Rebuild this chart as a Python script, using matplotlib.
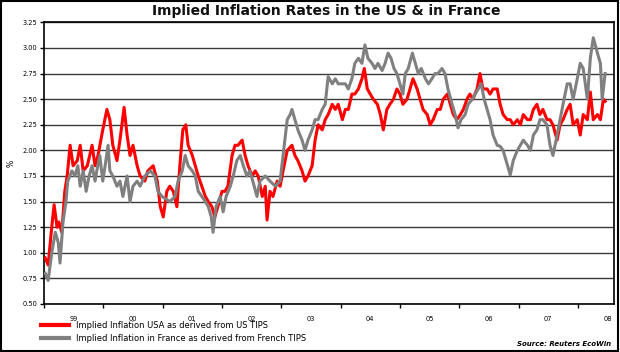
import matplotlib
matplotlib.use('Agg')
import matplotlib.pyplot as plt
from matplotlib.lines import Line2D
from matplotlib.patches import Rectangle

# dates as decimal years, values in %
us_t = [1999.02, 1999.07, 1999.13, 1999.17, 1999.22, 1999.25, 1999.30, 1999.35, 1999.39, 1999.44,
        1999.49, 1999.56, 1999.61, 1999.66, 1999.73, 1999.81, 1999.86, 1999.91, 1999.99, 2000.06,
        2000.11, 2000.16, 2000.23, 2000.28, 2000.35, 2000.40, 2000.45, 2000.50, 2000.57, 2000.62,
        2000.70, 2000.75, 2000.84, 2000.91, 2000.96, 2001.01, 2001.07, 2001.12, 2001.18, 2001.24,
        2001.29, 2001.34, 2001.39, 2001.43, 2001.50, 2001.55, 2001.60, 2001.66, 2001.72, 2001.77,
        2001.83, 2001.88, 2001.93, 2002.00, 2002.05, 2002.10, 2002.17, 2002.22, 2002.27, 2002.34,
        2002.39, 2002.44, 2002.51, 2002.56, 2002.61, 2002.68, 2002.73, 2002.76, 2002.81, 2002.86,
        2002.93, 2002.98, 2003.03, 2003.10, 2003.18, 2003.23, 2003.28, 2003.35, 2003.40, 2003.45,
        2003.52, 2003.57, 2003.62, 2003.69, 2003.74, 2003.79, 2003.86, 2003.91, 2003.96, 2004.03,
        2004.08, 2004.13, 2004.19, 2004.24, 2004.30, 2004.36, 2004.40, 2004.45, 2004.50, 2004.55,
        2004.62, 2004.67, 2004.72, 2004.78, 2004.83, 2004.89, 2004.95, 2005.00, 2005.05, 2005.12,
        2005.17, 2005.22, 2005.29, 2005.34, 2005.39, 2005.46, 2005.51, 2005.56, 2005.63, 2005.68,
        2005.73, 2005.80, 2005.85, 2005.90, 2005.96, 2006.02, 2006.07, 2006.13, 2006.18, 2006.23,
        2006.30, 2006.35, 2006.40, 2006.47, 2006.52, 2006.57, 2006.64, 2006.69, 2006.74, 2006.81,
        2006.86, 2006.91, 2006.98, 2007.03, 2007.08, 2007.15, 2007.20, 2007.25, 2007.31, 2007.36,
        2007.41, 2007.48, 2007.53, 2007.58, 2007.65, 2007.70, 2007.75, 2007.82, 2007.87, 2007.92,
        2007.99, 2008.04, 2008.09, 2008.16, 2008.21, 2008.26, 2008.33, 2008.38, 2008.43, 2008.46]
us_v = [0.95, 0.88, 1.25, 1.47, 1.25, 1.30, 1.20, 1.60, 1.75, 2.05,
        1.85, 1.90, 2.05, 1.80, 1.85, 2.05, 1.85, 1.95, 2.20, 2.40,
        2.30, 2.05, 1.90, 2.10, 2.42, 2.15, 1.95, 2.05, 1.85, 1.75,
        1.70, 1.80, 1.85, 1.70, 1.45, 1.35, 1.60, 1.65, 1.60, 1.45,
        1.85, 2.20, 2.25, 2.05, 1.95, 1.85, 1.75, 1.65, 1.55, 1.50,
        1.45, 1.35, 1.45, 1.60, 1.60, 1.65, 1.95, 2.05, 2.05, 2.10,
        1.95, 1.85, 1.75, 1.80, 1.75, 1.55, 1.65, 1.32, 1.60, 1.55,
        1.70, 1.65, 1.80, 2.00, 2.05, 1.95, 1.90, 1.80, 1.70, 1.75,
        1.85, 2.10, 2.25, 2.20, 2.30, 2.35, 2.45, 2.40, 2.45, 2.30,
        2.40, 2.40, 2.55, 2.55, 2.60, 2.70, 2.80, 2.60, 2.55, 2.50,
        2.45, 2.35, 2.20, 2.40, 2.45, 2.50, 2.60, 2.55, 2.45, 2.50,
        2.60, 2.70, 2.60, 2.50, 2.40, 2.35, 2.25, 2.30, 2.40, 2.40,
        2.50, 2.55, 2.45, 2.35, 2.30, 2.35, 2.40, 2.50, 2.55, 2.50,
        2.60, 2.75, 2.60, 2.60, 2.55, 2.60, 2.60, 2.45, 2.35, 2.30,
        2.30, 2.25, 2.30, 2.25, 2.35, 2.30, 2.30, 2.40, 2.45, 2.35,
        2.40, 2.30, 2.30, 2.25, 2.10, 2.25, 2.30, 2.40, 2.45, 2.25,
        2.30, 2.15, 2.35, 2.30, 2.57, 2.30, 2.35, 2.30, 2.50, 2.48]

fr_t = [1999.02, 1999.07, 1999.13, 1999.19, 1999.24, 1999.27, 1999.32, 1999.37, 1999.40, 1999.47,
        1999.52, 1999.57, 1999.61, 1999.66, 1999.71, 1999.76, 1999.81, 1999.86, 1999.89, 1999.94,
        1999.99, 2000.03, 2000.08, 2000.11, 2000.16, 2000.23, 2000.28, 2000.33, 2000.40, 2000.45,
        2000.50, 2000.57, 2000.62, 2000.70, 2000.79, 2000.87, 2000.92, 2000.99, 2001.07, 2001.12,
        2001.21, 2001.26, 2001.33, 2001.38, 2001.43, 2001.50, 2001.55, 2001.60, 2001.66, 2001.72,
        2001.77, 2001.82, 2001.85, 2001.90, 2001.97, 2002.02, 2002.07, 2002.14, 2002.19, 2002.25,
        2002.31, 2002.36, 2002.42, 2002.47, 2002.52, 2002.59, 2002.64, 2002.73, 2002.81, 2002.90,
        2002.98, 2003.03, 2003.10, 2003.15, 2003.18, 2003.23, 2003.28, 2003.35, 2003.40, 2003.45,
        2003.52, 2003.57, 2003.62, 2003.69, 2003.74, 2003.79, 2003.86, 2003.91, 2003.96, 2004.03,
        2004.08, 2004.13, 2004.19, 2004.24, 2004.30, 2004.36, 2004.41, 2004.46, 2004.53, 2004.58,
        2004.63, 2004.70, 2004.75, 2004.80, 2004.85, 2004.90, 2004.95, 2005.00, 2005.05, 2005.09,
        2005.14, 2005.21, 2005.26, 2005.31, 2005.36, 2005.43, 2005.48, 2005.54, 2005.59, 2005.64,
        2005.71, 2005.76, 2005.81, 2005.88, 2005.93, 2005.98, 2006.03, 2006.10, 2006.15, 2006.22,
        2006.27, 2006.32, 2006.37, 2006.42, 2006.47, 2006.52, 2006.57, 2006.64, 2006.69, 2006.74,
        2006.79, 2006.86, 2006.91, 2006.98, 2007.03, 2007.08, 2007.15, 2007.20, 2007.25, 2007.31,
        2007.36, 2007.41, 2007.48, 2007.53, 2007.58, 2007.65, 2007.70, 2007.75, 2007.82, 2007.87,
        2007.92, 2007.99, 2008.04, 2008.09, 2008.16, 2008.21, 2008.26, 2008.33, 2008.38, 2008.41,
        2008.46]
fr_v = [0.80, 0.73, 1.00, 1.20, 1.10, 0.90, 1.30, 1.50, 1.70, 1.80,
        1.75, 1.85, 1.65, 1.80, 1.60, 1.75, 1.85, 1.70, 1.80, 1.95,
        1.70, 1.85, 2.05, 1.80, 1.75, 1.65, 1.70, 1.55, 1.75, 1.50,
        1.65, 1.70, 1.65, 1.75, 1.80, 1.75, 1.60, 1.55, 1.52, 1.50,
        1.55, 1.70, 1.80, 1.95, 1.85, 1.80, 1.75, 1.60, 1.55, 1.50,
        1.45, 1.35, 1.20, 1.45, 1.55, 1.40, 1.55, 1.65, 1.75, 1.90,
        1.95, 1.85, 1.75, 1.80, 1.70, 1.55, 1.70, 1.75, 1.70, 1.65,
        1.70, 1.95, 2.30, 2.35, 2.40, 2.30, 2.20, 2.10, 2.00, 2.10,
        2.20, 2.30, 2.30, 2.40, 2.45, 2.72, 2.65, 2.70, 2.65, 2.65,
        2.65, 2.60, 2.70, 2.85, 2.90, 2.85, 3.03, 2.90, 2.85, 2.80,
        2.85, 2.78, 2.85, 2.95, 2.90, 2.80, 2.75, 2.65, 2.55, 2.75,
        2.80, 2.95, 2.85, 2.75, 2.80, 2.70, 2.65, 2.70, 2.75, 2.75,
        2.80, 2.75, 2.60, 2.45, 2.35, 2.22, 2.30, 2.35, 2.45, 2.50,
        2.55, 2.60, 2.65, 2.50, 2.40, 2.30, 2.15, 2.05, 2.04, 2.00,
        1.90, 1.76, 1.90, 2.00, 2.05, 2.10, 2.05, 2.00, 2.15, 2.20,
        2.30, 2.30, 2.25, 2.05, 1.95, 2.15, 2.30, 2.45, 2.65, 2.65,
        2.50, 2.70, 2.85, 2.80, 2.50, 2.90, 3.10, 2.95, 2.85, 2.50,
        2.75]

years = list(range(1999, 2009))
year_labels = ['99', '00', '01', '02', '03', '04', '05', '06', '07', '08']
y_ticks = [0.50, 0.75, 1.00, 1.25, 1.50, 1.75, 2.00, 2.25, 2.50, 2.75, 3.00, 3.25]

title = 'Implied Inflation Rates in the US & in France'
us_label = 'Implied Inflation USA as derived from US TIPS'
fr_label = 'Implied Inflation in France as derived from French TIPS'
source = 'Source: Reuters EcoWin'

plt.rcParams['font.family'] = ['DejaVu Sans']

fig = plt.figure(figsize=(6.2, 3.52), dpi=100)
ax = fig.add_axes([0.071, 0.1364, 0.9194, 0.800])

for yv in y_ticks:
    ax.axhline(yv, color='#3a3a3a', lw=1.0, zorder=1)

ax.plot(us_t, us_v, color='#ff0000', lw=2.2, zorder=3)
ax.plot(fr_t, fr_v, color='#808080', lw=2.2, zorder=4)

ax.set_xlim(1999.0, 2008.61)
ax.set_ylim(0.5, 3.25)

ax.set_yticks(y_ticks)
ax.set_yticklabels(['%.2f' % v for v in y_ticks], fontsize=4.8)
ax.set_xticks(years)
ax.set_xticklabels([])
ax.set_xticks([y + 0.5 for y in years], minor=True)
ax.set_xticklabels(year_labels, minor=True, fontsize=4.8)
ax.tick_params(axis='x', which='major', length=3, width=1, direction='out')
ax.tick_params(axis='x', which='minor', length=0, pad=9)
ax.tick_params(axis='y', length=3, width=1, pad=2)

for s in ax.spines.values():
    s.set_color('black')
    s.set_linewidth(1.2)

ax.set_ylabel('%', fontsize=5.5, labelpad=5)

fig.text(0.527, 0.970, title, ha='center', va='center', fontsize=10, fontweight='bold',
         color='#111111')

handles = [Line2D([], [], color='#ff0000', lw=3), Line2D([], [], color='#808080', lw=3)]
fig.legend(handles, [us_label, fr_label], loc='upper left', bbox_to_anchor=(0.066, 0.088),
           frameon=False, fontsize=6, handlelength=3.4, handletextpad=0.8,
           labelspacing=0.5, borderpad=0, borderaxespad=0)

fig.text(0.985, 0.014, source, ha='right', va='bottom', fontsize=5, fontweight='bold',
         fontstyle='italic')

fig.patches.append(Rectangle((0.002, 0.003), 0.995, 0.994, transform=fig.transFigure,
                             fill=False, edgecolor='black', lw=1.5))

fig.savefig('out.png', dpi=100)
